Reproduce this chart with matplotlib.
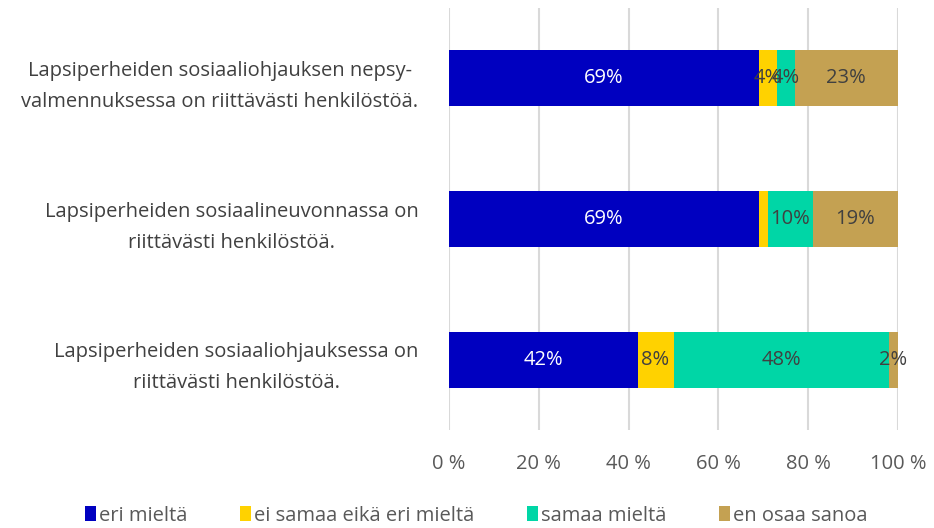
import numpy as np
import matplotlib.pyplot as plt

# Data (top to bottom in the chart)
categories = [
    "Lapsiperheiden sosiaaliohjauksen nepsy-\nvalmennuksessa on riittävästi henkilöstöä.",
    "Lapsiperheiden sosiaalineuvonnassa on\nriittävästi henkilöstöä.",
    "Lapsiperheiden sosiaaliohjauksessa on\nriittävästi henkilöstöä.",
]
series_names = ["eri mieltä", "ei samaa eikä eri mieltä", "samaa mieltä", "en osaa sanoa"]
eri_mielta = [69, 69, 42]
ei_samaa = [4, 2, 8]
samaa_mielta = [4, 10, 48]
en_osaa = [23, 19, 2]
# which labels are shown in the original (second bar's yellow one is hidden)
show_label = [
    [True, True, True],
    [True, False, True],
    [True, True, True],
    [True, True, True],
]

colors = ["#0000C0", "#FFD200", "#00D6A6", "#C4A152"]
text_colors = ["white", "#404040", "#404040", "#404040"]

plt.rcParams['font.family'] = ['Open Sans', 'DejaVu Sans']

fig = plt.figure(figsize=(9.34, 5.28), dpi=100)
ax = fig.add_axes([449 / 934, 1 - 430 / 528, 449 / 934, 422 / 528])

series = [eri_mielta, ei_samaa, samaa_mielta, en_osaa]
y = np.arange(len(categories))[::-1]
left = np.zeros(len(categories))
for i, vals in enumerate(series):
    vals = np.array(vals, dtype=float)
    ax.barh(y, vals, left=left, height=0.4, color=colors[i], label=series_names[i], zorder=3)
    for j in range(len(vals)):
        if show_label[i][j]:
            ax.text(left[j] + vals[j] / 2, y[j], f"{int(vals[j])}%", ha='center', va='center',
                    color=text_colors[i], fontsize=14.5, zorder=4)
    left += vals

ax.set_xlim(0, 100)
ax.set_ylim(-0.5, len(categories) - 0.5)
ax.set_xticks(np.arange(0, 101, 20))
ax.set_xticklabels([f"{v} %" for v in range(0, 101, 20)], fontsize=14.5, color="#595959")
ax.set_yticks(y)
ax.set_yticklabels(categories, fontsize=14.5, color="#404040", multialignment='center',
                   linespacing=1.75)
ax.tick_params(axis='both', length=0)
ax.tick_params(axis='x', pad=17)
ax.tick_params(axis='y', pad=22)
for s in ax.spines.values():
    s.set_visible(False)
ax.grid(axis='x', color="#d9d9d9", linewidth=1.5, zorder=0)
ax.set_axisbelow(True)

fig.legend(loc='lower center', bbox_to_anchor=(0.51, -0.03), ncol=4, frameon=False,
           fontsize=14.5, handlelength=0.55, handleheight=0.75, handletextpad=0.15,
           columnspacing=2.6, labelcolor="#595959")

fig.savefig("out.png", dpi=100)
